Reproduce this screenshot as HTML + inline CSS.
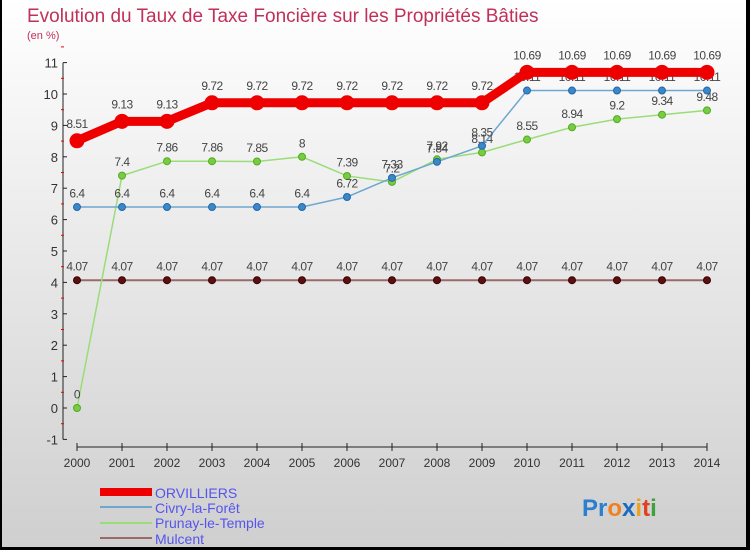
<!DOCTYPE html>
<html><head><meta charset="utf-8"><style>
body{margin:0;width:750px;height:550px;overflow:hidden;font-family:"Liberation Sans",sans-serif}
#wrap{position:relative;width:750px;height:550px;box-sizing:border-box;border-left:2px solid #000;border-right:4px solid #000;border-bottom:3px solid #000;background:linear-gradient(#ffffff,#cfcfcf)}
</style></head><body>
<div id="wrap">
<svg id="chart" width="750" height="550" style="position:absolute;left:-2px;top:0">
<text x="27" y="22" font-size="19" fill="#c0305a">Evolution du Taux de Taxe Foncière sur les Propriétés Bâties</text>
<text x="27" y="39" font-size="11" fill="#c0305a">(en %)</text>
<g id="axes"></g><g id="series"></g>
<g>
<rect x="100" y="488" width="52" height="8" fill="#ee0000"/>
<text x="155" y="498" font-size="14" fill="#5555ee">ORVILLIERS</text>
<rect x="100" y="506" width="52" height="2" fill="#6fa7cf"/>
<text x="155" y="513" font-size="14" fill="#5555ee">Civry-la-Forêt</text>
<rect x="100" y="522" width="52" height="2" fill="#99dd77"/>
<text x="155" y="528" font-size="14" fill="#5555ee">Prunay-le-Temple</text>
<rect x="100" y="537" width="52" height="2" fill="#9a6a6a"/>
<text x="155" y="544" font-size="14" fill="#5555ee">Mulcent</text>
</g>
<text x="582" y="516" font-size="24" font-weight="bold"><tspan fill="#2a7fd0">Pr</tspan><tspan fill="#f08020">o</tspan><tspan fill="#1a6ac0">x</tspan><tspan fill="#f0a020">i</tspan><tspan fill="#e04020">t</tspan><tspan fill="#40a040">i</tspan></text>
</svg>
</div>
<script>
const years=[2000,2001,2002,2003,2004,2005,2006,2007,2008,2009,2010,2011,2012,2013,2014];
const orvilliers=[8.51,9.13,9.13,9.72,9.72,9.72,9.72,9.72,9.72,9.72,10.69,10.69,10.69,10.69,10.69];
const civry=[6.4,6.4,6.4,6.4,6.4,6.4,6.72,7.33,7.84,8.35,10.11,10.11,10.11,10.11,10.11];
const prunay=[0,7.4,7.86,7.86,7.85,8,7.39,7.2,7.92,8.14,8.55,8.94,9.2,9.34,9.48];
const mulcent=[4.07,4.07,4.07,4.07,4.07,4.07,4.07,4.07,4.07,4.07,4.07,4.07,4.07,4.07,4.07];
const yTicks=[-1,0,1,2,3,4,5,6,7,8,9,10,11];
const NS="http://www.w3.org/2000/svg";
const X=i=>77+i*45, Y=v=>408-v*31.4;
function mk(t,a,p){const e=document.createElementNS(NS,t);for(const k in a)e.setAttribute(k,a[k]);p.appendChild(e);return e;}
const ax=document.getElementById('axes');
let l=mk('line',{x1:63,y1:Y(11),x2:63,y2:Y(-1),stroke:'#222'},ax);


yTicks.forEach(v=>{
 mk('line',{x1:63,y1:Y(v),x2:67,y2:Y(v),stroke:'#222'},ax);
 mk('line',{x1:61,y1:Y(v+0.5),x2:64,y2:Y(v+0.5),stroke:'#e00'},ax);
 const t=mk('text',{x:58,y:Y(v)+5,'font-size':13,fill:'#333','text-anchor':'end'},ax);t.textContent=v;
 
 
});
l=mk('line',{x1:X(0),y1:447,x2:X(14),y2:447,stroke:'#222'},ax);


years.forEach((y,i)=>{
 mk('line',{x1:X(i),y1:443,x2:X(i),y2:451,stroke:'#222'},ax);
 const t=mk('text',{x:X(i),y:467,'font-size':12,fill:'#333','text-anchor':'middle'},ax);t.textContent=y;
 
 
});
const sg=document.getElementById('series');
function draw(data,name,color,w,r,dot,stroke){
 const g=mk('g',{},sg);
 
 
 mk('polyline',{points:data.map((v,i)=>X(i)+','+Y(v)).join(' '),fill:'none',stroke:color,'stroke-width':w},g);
 data.forEach((v,i)=>{
  const c=mk('circle',{cx:X(i),cy:Y(v),r:r,fill:dot,stroke:stroke,'stroke-width':1},g);
  
  
  const t=mk('text',{x:X(i),y:Y(v)-r-6,'font-size':12,fill:'#444','text-anchor':'middle','letter-spacing':'-0.5'},g);t.textContent=v;
  
  
 });
}
draw(mulcent,'mulcent','#9a6a6a',2,3.5,'#5a1010','#3a0000');
draw(prunay,'prunay','#99dd77',1.5,3.5,'#77cc44','#55aa22');
draw(civry,'civry','#6fa7cf',1.5,3.5,'#3a88c8','#2266aa');
draw(orvilliers,'orvilliers','#ee0000',9,7,'#ee0000','#ee0000');
</script>
</body></html>
